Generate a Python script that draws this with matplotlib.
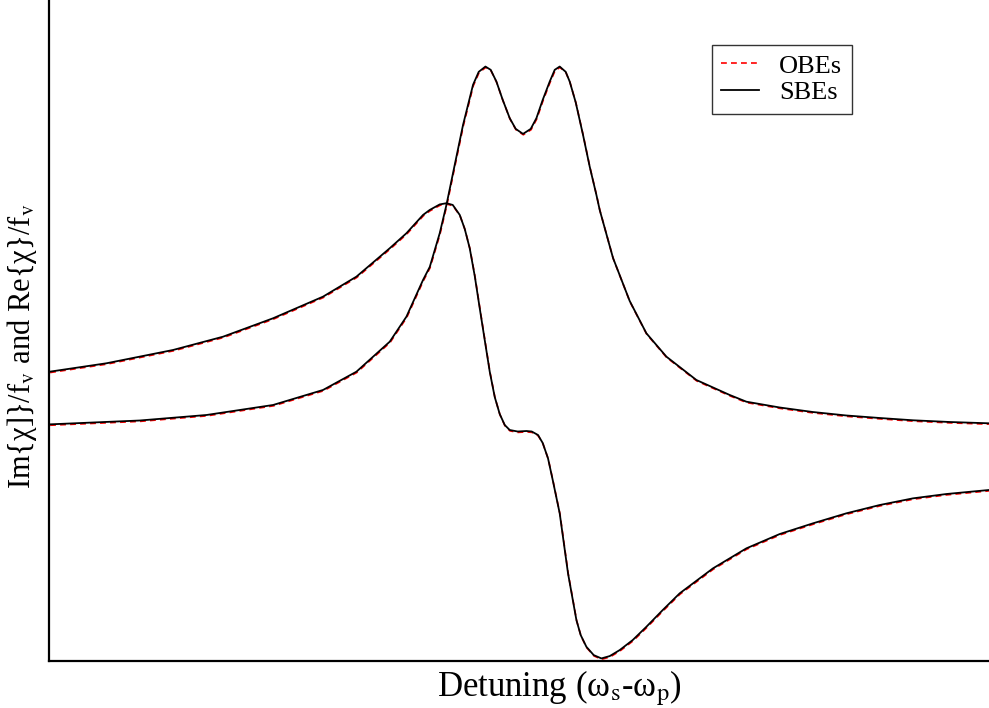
import matplotlib
matplotlib.use("Agg")
import matplotlib.pyplot as plt
import matplotlib.transforms as mtransforms

plt.rcParams["font.family"] = ["Liberation Serif", "DejaVu Serif"]
plt.rcParams["mathtext.fontset"] = "stix"

# Probe detuning (arbitrary units, two-photon resonance at 0)
detuning_im = [-12.627, -10.227, -8.448, -6.672, -5.339, -4.448, -3.560,
               -3.115, -2.672, -2.493, -2.227, -2.048, -1.827, -1.605,
               -1.339, -1.187, -1.008, -0.867, -0.715, -0.547, -0.360,
               -0.200, -0.005, 0.200, 0.352, 0.520, 0.707, 0.840, 0.973,
               1.133, 1.240, 1.400, 1.595, 1.773, 1.952, 2.040, 2.395,
               2.840, 3.285, 3.819, 4.619, 5.507, 5.952, 6.840, 7.720,
               8.619, 9.507, 10.395, 11.373, 12.413]
# Absorptive part, Im{chi}/f_v (normalised to the doublet peak)
im_sbe = [-0.001, 0.0098, 0.0252, 0.0532, 0.0952, 0.1464, 0.2303,
          0.3003, 0.4030, 0.4394, 0.5337, 0.6129, 0.7249, 0.8368,
          0.9488, 0.9852, 1.0000, 0.9908, 0.9580, 0.9068, 0.8556,
          0.8256, 0.8116, 0.8256, 0.8556, 0.9068, 0.9580, 0.9908,
          1.0000, 0.9852, 0.9580, 0.8998, 0.8088, 0.7201, 0.6409,
          0.5989, 0.4646, 0.3442, 0.2538, 0.1884, 0.1231, 0.0812,
          0.0624, 0.0462, 0.0336, 0.0238, 0.0168, 0.0104, 0.0056,
          0.0020]

detuning_re = [-12.627, -11.115, -9.339, -8.005, -6.672, -5.339, -4.448,
               -3.560, -3.115, -2.672, -2.493, -2.227, -2.048, -1.880,
               -1.693, -1.560, -1.427, -1.293, -1.160, -1.027, -0.893,
               -0.760, -0.627, -0.493, -0.360, -0.147, 0.085, 0.227,
               0.395, 0.520, 0.661, 0.787, 0.973, 1.195, 1.419, 1.533,
               1.685, 1.880, 2.085, 2.307, 2.573, 2.920, 3.285, 3.720,
               4.173, 5.061, 5.952, 6.840, 7.728, 8.619, 9.507, 10.395,
               11.285, 12.413]
# Dispersive part, Re{chi}/f_v (same normalisation)
re_sbe = [0.1464, 0.1699, 0.2071, 0.2443, 0.2958, 0.3563, 0.4123,
          0.4917, 0.5337, 0.5849, 0.5989, 0.6143, 0.6177, 0.6129,
          0.5849, 0.5458, 0.4917, 0.4142, 0.3238, 0.2351, 0.1464,
          0.0756, 0.0280, -0.0028, -0.0168, -0.0210, -0.0196, -0.0210,
          -0.0308, -0.0532, -0.0960, -0.1567, -0.2499, -0.4179,
          -0.5486, -0.5905, -0.6233, -0.6465, -0.6558, -0.6493,
          -0.6325, -0.6045, -0.5673, -0.5206, -0.4738, -0.4039,
          -0.3479, -0.3079, -0.2779, -0.2499, -0.2267, -0.2080,
          -0.1959, -0.1847]

fig = plt.figure(figsize=(9.89, 7.08), dpi=100)
ax = fig.add_axes([0.0495, 0.0664, 1.033, 0.934])

# OBE result drawn a hair below the SBE curve so both stay visible
shift = mtransforms.ScaledTranslation(0.3 / 100, -0.9 / 100, fig.dpi_scale_trans)
obe_tr = ax.transData + shift

dash = (0, (3.5, 2.5))
ax.plot(detuning_im, im_sbe, color="red", lw=1.2, ls=dash,
        transform=obe_tr, label="OBEs")
ax.plot(detuning_re, re_sbe, color="red", lw=1.2, ls=dash, transform=obe_tr)
ax.plot(detuning_im, im_sbe, color="black", lw=1.3, label="SBEs")
ax.plot(detuning_re, re_sbe, color="black", lw=1.3)

ax.set_xlim(-12.65, 14.6)
ax.set_ylim(-0.663, 1.187)
ax.set_xticks([])
ax.set_yticks([])
ax.spines["top"].set_visible(False)
ax.spines["right"].set_visible(False)
for side in ("left", "bottom"):
    ax.spines[side].set_linewidth(1.6)

fig.text(0.566, 0.028, r"Detuning (ω$_{\mathrm{s}}$-ω$_{\mathrm{p}}$)",
         ha="center", va="center", fontsize=25)
fig.text(0.022, 0.511, r"Im{χ]}/f$_{\mathrm{v}}$ and Re{χ}/f$_{\mathrm{v}}$",
         ha="center", va="center", rotation=90, fontsize=22)

leg = ax.legend(loc="upper left", bbox_to_anchor=(711.7 / 989, 1 - 45 / 708),
                bbox_transform=fig.transFigure, fontsize=19, frameon=True,
                fancybox=False, edgecolor="black", handlelength=1.45,
                borderpad=0.35, labelspacing=0.12, handletextpad=0.76,
                borderaxespad=0)
leg.get_frame().set_linewidth(1.0)

fig.savefig("out.png", dpi=100)
